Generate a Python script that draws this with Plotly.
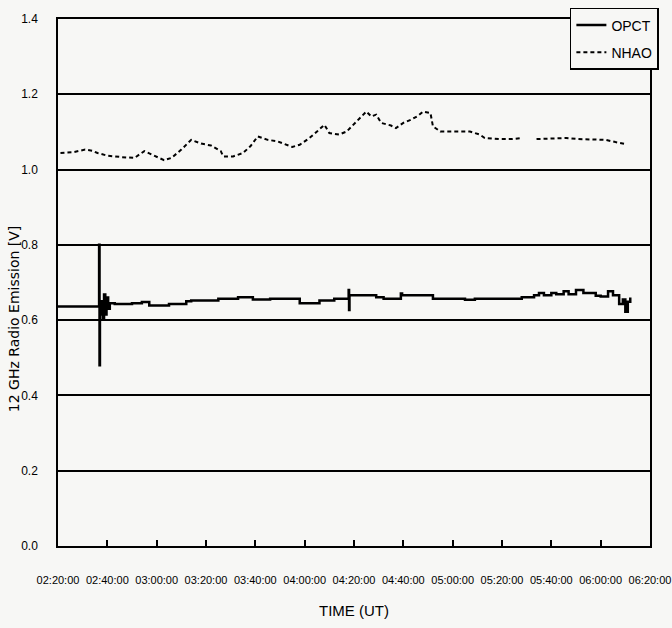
import plotly.graph_objects as go

DAY = "2000-01-01 "

# OPCT (solid) – step-like record
opct_time = ["02:20:00", "02:36:30", "02:36:40", "02:36:50", "02:37:00", "02:37:40", "02:38:10",
             "02:38:40", "02:39:10", "02:39:40", "02:40:20", "02:41:00", "02:43:00", "02:50:00",
             "02:54:00", "02:57:00", "03:05:00", "03:12:00", "03:14:00", "03:25:00", "03:33:00",
             "03:39:00", "03:46:00", "03:58:00", "04:06:00", "04:12:00", "04:17:50", "04:18:00",
             "04:18:10", "04:29:00", "04:32:00", "04:39:00", "04:39:30", "04:52:00", "05:05:00",
             "05:09:00", "05:28:00", "05:33:00", "05:35:00", "05:37:00", "05:40:00", "05:42:00",
             "05:45:00", "05:47:00", "05:50:00", "05:53:00", "05:58:00", "06:00:00", "06:03:00",
             "06:05:00", "06:07:30", "06:09:00", "06:10:00", "06:11:00", "06:12:00", "06:12:30"]
opct_val = [0.636, 0.636, 0.800, 0.480, 0.615, 0.650, 0.605,
            0.668, 0.615, 0.660, 0.630, 0.645, 0.643, 0.645,
            0.648, 0.639, 0.643, 0.650, 0.652, 0.657, 0.661,
            0.655, 0.657, 0.645, 0.652, 0.657, 0.680, 0.627,
            0.666, 0.661, 0.657, 0.671, 0.666, 0.657, 0.654,
            0.657, 0.661, 0.666, 0.672, 0.666, 0.672, 0.669,
            0.677, 0.669, 0.680, 0.672, 0.665, 0.663, 0.677,
            0.666, 0.643, 0.655, 0.622, 0.649, 0.657, 0.657]

# NHAO (dashed)
nhao_time = ["02:21", "02:26", "02:31", "02:34", "02:36", "02:40", "02:46", "02:51", "02:55",
             "02:58", "03:03", "03:06", "03:10", "03:14", "03:18", "03:22", "03:26", "03:27",
             "03:31", "03:35", "03:38", "03:41", "03:45", "03:49", "03:52", "03:55", "03:58",
             "04:02", "04:05", "04:08", "04:10", "04:14", "04:17", "04:21", "04:24", "04:25",
             "04:27", "04:29", "04:31", "04:35", "04:37", "04:40", "04:43", "04:46", "04:48",
             "04:51", "04:52", "04:55", "04:58", "05:01", "05:07", "05:11", "05:13", "05:19",
             "05:24", "05:28", "05:31", "05:34", "05:40", "05:46", "05:51", "05:57", "06:02",
             "06:06", "06:10"]
nhao_val = [1.044, 1.046, 1.053, 1.050, 1.044, 1.037, 1.033, 1.031, 1.049,
            1.040, 1.025, 1.031, 1.053, 1.079, 1.069, 1.064, 1.049, 1.035,
            1.035, 1.044, 1.062, 1.088, 1.079, 1.075, 1.068, 1.060, 1.066,
            1.084, 1.101, 1.119, 1.097, 1.093, 1.101, 1.128, 1.146, 1.154,
            1.141, 1.146, 1.124, 1.117, 1.110, 1.124, 1.132, 1.143, 1.154,
            1.150, 1.115, 1.101, 1.101, 1.101, 1.101, 1.093, 1.084, 1.081,
            1.081, 1.084, None, 1.081, 1.082, 1.084, 1.081, 1.081, 1.079,
            1.073, 1.068]

x_ticks = ["02:20:00", "02:40:00", "03:00:00", "03:20:00", "03:40:00", "04:00:00", "04:20:00",
           "04:40:00", "05:00:00", "05:20:00", "05:40:00", "06:00:00", "06:20:00"]
y_ticks = [0.0, 0.2, 0.4, 0.6, 0.8, 1.0, 1.2, 1.4]

FONT = "Liberation Sans, Arial, sans-serif"
BG = "#f7f7f5"

fig = go.Figure()
fig.add_trace(go.Scatter(
    x=[DAY + t for t in opct_time], y=opct_val, name="OPCT", mode="lines",
    line=dict(color="black", width=2.5, shape="hv"), legendgroup="a"))
fig.add_trace(go.Scatter(
    x=[DAY + t + ":00" for t in nhao_time], y=nhao_val, name="NHAO", mode="lines",
    line=dict(color="black", width=2, dash="4px,3px"), connectgaps=False, legendgroup="b"))

fig.update_layout(
    width=672, height=628,
    margin=dict(l=58, r=22, t=19, b=82, autoexpand=False),
    paper_bgcolor=BG, plot_bgcolor=BG,
    font=dict(family=FONT, color="black", size=13),
    showlegend=True,
    legend=dict(x=1.015, y=1.021, xanchor="right", yanchor="top",
                bgcolor=BG, bordercolor="black", borderwidth=1.5,
                font=dict(family=FONT, size=14, color="black"),
                traceorder="grouped", tracegroupgap=6, itemwidth=30),
    xaxis=dict(
        type="date", automargin=False,
        range=[DAY + "02:19:59.9", DAY + "06:20:00.1"],
        tickmode="array", tickvals=[DAY + t for t in x_ticks], ticktext=x_ticks,
        tickangle=0, ticklabeloverflow="allow",
        ticks="inside", ticklen=6, tickwidth=1.5, tickcolor="black",
        showline=True, linecolor="black", linewidth=2, mirror=True,
        showgrid=False, zeroline=False,
        tickfont=dict(family=FONT, size=11, color="black"),
        ticklabelstandoff=23,
        title=dict(text="TIME (UT)", font=dict(family=FONT, size=15, color="black"), standoff=20),
    ),
    yaxis=dict(
        automargin=False,
        range=[0, 1.4], tickmode="array", tickvals=y_ticks,
        ticktext=[f"{v:.1f}" for v in y_ticks],
        ticks="", showline=True, linecolor="black", linewidth=1.5, mirror=True,
        showgrid=True, gridcolor="black", gridwidth=1.5, zeroline=False,
        tickfont=dict(family=FONT, size=12, color="black"),
        ticklabelstandoff=16,
    ),
    annotations=[dict(
        text="12 GHz Radio Emission [V]", textangle=-90,
        xref="paper", yref="paper", x=-0.073, y=0.43, xanchor="center", yanchor="middle",
        showarrow=False, font=dict(family="DejaVu Sans, sans-serif", size=14, color="black"))],
)

fig.write_html(
    "out.html",
    config={"displayModeBar": False},
    post_script="document.body.style.margin='0';document.body.style.overflow='hidden';"
                "document.body.style.background='" + BG + "';",
)
